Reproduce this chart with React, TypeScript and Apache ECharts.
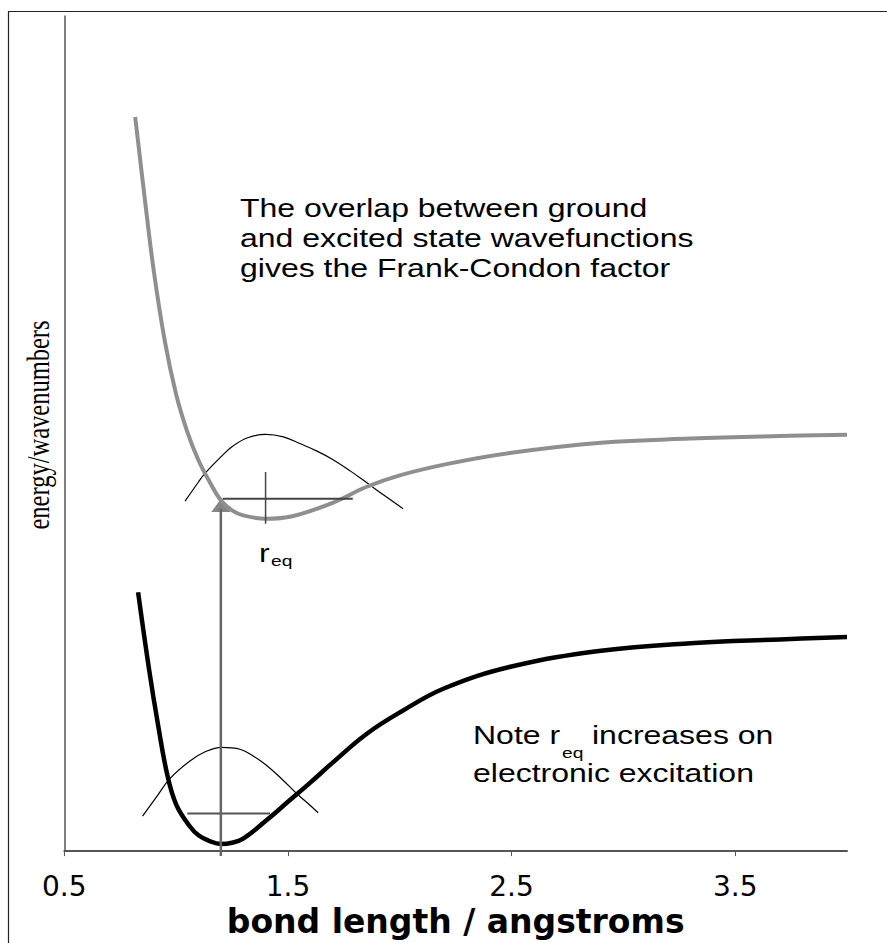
import React, { useEffect, useRef } from 'react';
import * as echarts from 'echarts';

// x tick values (bond length, angstroms)
const xTickValues = [0.5, 1.5, 2.5, 3.5];

// ground state potential (black)
const groundR = [0.83, 0.88, 0.92, 0.96, 1.0, 1.06, 1.1, 1.15, 1.2, 1.25, 1.3, 1.4, 1.5, 1.6, 1.7, 1.85, 2.0, 2.2, 2.5, 2.9, 3.3, 3.7, 4.0];
const groundE = [31.0, 21.6, 15.0, 9.2, 5.6, 3.0, 1.9, 1.2, 0.85, 1.0, 1.5, 3.6, 5.9, 8.2, 10.6, 14.0, 16.6, 19.5, 22.1, 24.0, 24.9, 25.35, 25.65];

// excited state potential (grey)
const excitedR = [0.817, 0.86, 0.9, 0.95, 1.0, 1.05, 1.1, 1.15, 1.2, 1.25, 1.3, 1.4, 1.52, 1.7, 1.85, 2.0, 2.22, 2.5, 2.9, 3.3, 3.7, 4.0];
const excitedE = [87.9, 78.1, 69.5, 61.0, 54.7, 50.2, 46.8, 44.2, 42.0, 40.8, 40.2, 39.8, 40.1, 41.7, 43.6, 45.0, 46.4, 47.7, 48.9, 49.4, 49.7, 49.85];

// vibrational wavefunctions (thin)
const wfGroundR = [0.85, 0.91, 0.972, 1.062, 1.13, 1.204, 1.286, 1.35, 1.405, 1.47, 1.539, 1.59, 1.635];
const wfGroundE = [4.19, 6.4, 8.67, 10.8, 11.9, 12.43, 12.2, 11.3, 10.25, 8.7, 6.89, 5.7, 4.6];
const wfExcitedR = [1.04, 1.1, 1.128, 1.2, 1.254, 1.32, 1.4, 1.48, 1.553, 1.63, 1.7, 1.78, 1.853, 1.93, 2.015];
const wfExcitedE = [41.9, 44.2, 45.2, 47.2, 48.5, 49.5, 49.9, 49.6, 48.8, 47.9, 46.9, 45.5, 44.1, 42.6, 41.0];

// vibrational levels and markers
const groundLevelR = [1.05, 1.42];
const groundLevelE = [4.5, 4.5];
const excitedLevelR = [1.208, 1.79];
const excitedLevelE = [42.2, 42.2];
const reqTickR = [1.4, 1.4];
const reqTickE = [45.4, 39.2];
const arrowR = [1.2, 1.2];
const arrowE = [-0.6, 41.0];
const arrowHead = [1.2, 41.39];

const pairs = (xs: number[], ys: number[]) => xs.map((x, i) => [x, ys[i]]);

const SANS = 'Liberation Sans';
const SX = 1.28;

function txt(text: string, x: number, y: number, size: number, extra: any = {}) {
  return {
    type: 'text',
    x,
    y,
    scaleX: SX,
    z: 100,
    style: {
      text,
      x: 0,
      y: 0,
      fontFamily: SANS,
      fontSize: size,
      fill: '#000',
      align: 'left',
      textAlign: 'left',
      verticalAlign: 'middle',
      textVerticalAlign: 'middle',
      ...extra,
    },
  };
}

export default function App() {
  const ref = useRef<HTMLDivElement>(null);
  useEffect(() => {
    const chart = echarts.init(ref.current!, null, { renderer: 'svg' });
    const thin = (name: string, data: number[][], color: string, width: number, extra: any = {}) => ({
      name,
      type: 'line',
      data,
      showSymbol: false,
      symbol: 'none',
      lineStyle: { color, width },
      itemStyle: { color },
      ...extra,
    });
    chart.setOption({
      animation: false,
      backgroundColor: '#fff',
      grid: { left: 64.3, right: 40, top: 16, bottom: 85 },
      xAxis: {
        type: 'value',
        min: 0.5,
        max: 4.0,
        name: 'bond length / angstroms',
        nameLocation: 'middle',
        nameGap: 47,
        nameTextStyle: { fontFamily: 'DejaVu Sans', fontWeight: 'bold', fontSize: 33, color: '#000' },
        axisLine: { show: true, lineStyle: { color: '#555', width: 2 } },
        axisTick: { show: true, customValues: xTickValues, length: 5, lineStyle: { color: '#555', width: 1 } },
        axisLabel: {
          customValues: xTickValues,
          fontFamily: 'DejaVu Sans',
          fontSize: 28,
          color: '#000',
          margin: 21,
          formatter: (v: number) => v.toFixed(1),
        },
        splitLine: { show: false },
      },
      yAxis: {
        type: 'value',
        min: 0,
        max: 100,
        axisLine: { show: true, lineStyle: { color: '#555', width: 1.5 } },
        axisTick: { show: false },
        axisLabel: { show: false },
        splitLine: { show: false },
      },
      series: [
        thin('excited wavefunction', pairs(wfExcitedR, wfExcitedE), '#000', 1.2, { smooth: 0.4 }),
        thin('ground wavefunction', pairs(wfGroundR, wfGroundE), '#000', 1.2, { smooth: 0.4 }),
        thin('excited state', pairs(excitedR, excitedE), '#8f8f8f', 4, { smooth: 0.4 }),
        thin('ground state', pairs(groundR, groundE), '#000', 4.5, { smooth: 0.4 }),
        thin('ground level', pairs(groundLevelR, groundLevelE), '#555', 2),
        thin('excited level', pairs(excitedLevelR, excitedLevelE), '#444', 2),
        thin('r_eq marker', pairs(reqTickR, reqTickE), '#444', 1.5),
        thin('transition', pairs(arrowR, arrowE), '#666', 2.5, { clip: false }),
        {
          name: 'arrow head',
          type: 'scatter',
          data: [arrowHead],
          symbol: 'triangle',
          symbolSize: [19, 13],
          itemStyle: { color: '#666' },
          clip: false,
        },
      ],
      graphic: [
        {
          type: 'rect',
          shape: { x: 8.5, y: 11.5, width: 1000, height: 1000 },
          style: { fill: 'none', stroke: '#222', lineWidth: 1.2 },
          z: 100,
        },
        {
          type: 'text',
          x: 39,
          y: 425,
          rotation: Math.PI / 2,
          scaleY: 1.25,
          z: 100,
          style: {
            text: 'energy/wavenumbers',
            x: 0,
            y: 0,
            fontFamily: 'Liberation Serif',
            fontSize: 24.5,
            fill: '#000',
            align: 'center',
            textAlign: 'center',
            verticalAlign: 'middle',
            textVerticalAlign: 'middle',
          },
        },
        txt('The overlap between ground\nand excited state wavefunctions\ngives the Frank-Condon factor', 240, 193, 25, {
          lineHeight: 30,
          verticalAlign: 'top',
          textVerticalAlign: 'top',
        }),
        txt('r', 259, 553.3, 25),
        txt('eq', 271, 560.8, 15),
        txt('Note r', 473, 735.3, 25),
        txt('eq', 562, 753, 15),
        txt('increases on', 592, 735.3, 25),
        txt('electronic excitation', 473, 773.5, 25),
      ],
    });
    return () => chart.dispose();
  }, []);
  return (
    <div
      ref={ref}
      style={{ position: 'fixed', left: 0, top: 0, width: 887, height: 943, background: '#fff' }}
    />
  );
}
